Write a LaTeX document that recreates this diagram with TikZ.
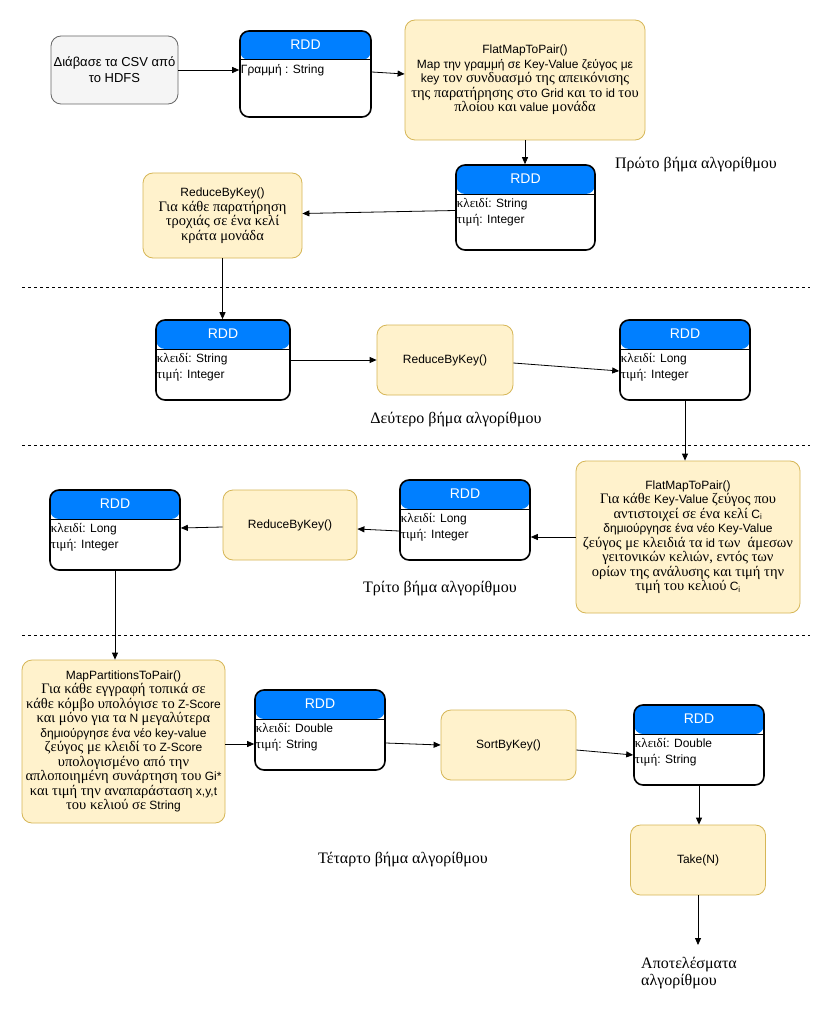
\documentclass[tikz,border=0pt]{standalone}
\usepackage{fontspec}
\setmainfont{Liberation Sans}
\newfontfamily\grs{Liberation Serif}
\usetikzlibrary{arrows.meta,calc}
\newcommand\gk[1]{{\grs\fontsize{14.5}{14.5}\selectfont #1}}
\newcommand\gkr[1]{{\grs\fontsize{13}{15.5}\selectfont #1}}
\definecolor{rddblue}{HTML}{007FFF}
\definecolor{opfill}{HTML}{FFF2CC}
\definecolor{opdraw}{HTML}{D6B656}
\definecolor{csvfill}{HTML}{F5F5F5}
\definecolor{csvdraw}{HTML}{666666}
\newcommand\rddnode[6]{%
  \node[rddbox, minimum width=#4pt, minimum height=#5pt] (#1) at (#2,#3) {};
  \node[rddhead] (#1h) at ([yshift=-14.5pt]#1.north) {RDD};
  \node[rddbody] (#1b) at ([xshift=0.5pt,yshift=-33pt]#1.north west) {#6};
}
\begin{document}
\begin{tikzpicture}[x=1pt,y=-1pt,
  font=\fontsize{12}{14.5}\selectfont,
  rddbox/.style={draw=black, line width=1.6pt, rounded corners=9pt, fill=white, inner sep=0pt,
    path picture={
      \fill[rddblue] ([yshift=2pt]path picture bounding box.north west) rectangle ([yshift=-29pt]path picture bounding box.north east);
      \draw[line width=1pt,black] ([yshift=-29pt]path picture bounding box.north west) -- ([yshift=-29pt]path picture bounding box.north east);
    }},
  rddhead/.style={text=white, font=\fontsize{14}{16}\selectfont, inner sep=0pt},
  rddbody/.style={anchor=north west, align=left, inner sep=1pt, font=\fontsize{12}{15.5}\selectfont},
  opbox/.style={draw=opdraw, fill=opfill, line width=0.8pt, rounded corners=10pt, align=center, inner sep=2pt},
  csvbox/.style={draw=csvdraw, fill=csvfill, line width=0.8pt, rounded corners=10pt, align=center, inner sep=2pt, font=\fontsize{13}{16}\selectfont},
  steplabel/.style={font=\grs\fontsize{16}{19}\selectfont, inner sep=0pt},
  arr/.style={draw=black, line width=0.8pt, -{Triangle[length=7pt,width=6pt]}},
  sep/.style={draw=black, line width=0.8pt, dash pattern=on 3pt off 3pt}
]
\fill[white] (0,0) rectangle (832,1011);
\useasboundingbox (0,0) rectangle (832,1011);

% separators
\draw[sep] (22,287) -- (810,287);
\draw[sep] (22,445) -- (810,445);
\draw[sep] (22,635) -- (810,635);

% step 1
\node[csvbox, minimum width=127pt, minimum height=68pt] (csv) at (114.5,70) {Διάβασε τα CSV από\\το HDFS};
\rddnode{r1}{305.5}{74}{131}{86}{Γραμμή : String}
\node[opbox, minimum width=240pt, minimum height=120pt] (fm1) at (525,80) {FlatMapToPair()\\
Map την γραμμή σε Key-Value ζεύγος με\\
key \gk{τον συνδυασμό της απεικόνισης}\\
\gk{της παρατήρησης στο} Grid \gk{και το} id \gk{του}\\
\gk{πλοίου και} value \gk{μονάδα}};
\node[steplabel] (l1) at (696,165) {Πρώτο βήμα αλγορίθμου};
\rddnode{r2}{525.5}{207.5}{139}{85}{\gkr{κλειδί}: String\\\gkr{τιμή}: Integer}
\node[opbox, minimum width=159pt, minimum height=85pt] (rb1) at (222.5,215.5) {ReduceByKey()\\
\gk{Για κάθε παρατήρηση}\\\gk{τροχιάς σε ένα κελί}\\\gk{κράτα μονάδα}};

% step 2
\rddnode{r3}{223}{360}{134}{80}{\gkr{κλειδί}: String\\\gkr{τιμή}: Integer}
\node[opbox, minimum width=136pt, minimum height=70pt] (rb2) at (445,360) {ReduceByKey()};
\rddnode{r4}{685}{360}{130}{80}{\gkr{κλειδί}: Long\\\gkr{τιμή}: Integer}
\node[steplabel] (l2) at (456,420) {Δεύτερο βήμα αλγορίθμου};

% step 3
\node[opbox, minimum width=224pt, minimum height=152pt] (fm2) at (688,537) {FlatMapToPair()\\
\gk{Για κάθε} Key-Value \gk{ζεύγος που}\\
\gk{αντιστοιχεί σε ένα κελί} C\textsubscript{i}\\
δημιούργησε ένα νέο Key-Value\\
\gk{ζεύγος με κλειδιά τα} id \gk{των\ \ άμεσων}\\
\gk{γειτονικών κελιών, εντός των}\\
\gk{ορίων της ανάλυσης και τιμή την}\\
\gk{τιμή του κελιού} C\textsubscript{i}};
\rddnode{r5}{465}{520}{130}{80}{\gkr{κλειδί}: Long\\\gkr{τιμή}: Integer}
\node[opbox, minimum width=134pt, minimum height=70pt] (rb3) at (290,525) {ReduceByKey()};
\rddnode{r6}{115}{530}{130}{80}{\gkr{κλειδί}: Long\\\gkr{τιμή}: Integer}
\node[steplabel] (l3) at (440,589) {Τρίτο βήμα αλγορίθμου};

% step 4
\node[opbox, minimum width=203pt, minimum height=163pt] (mp) at (123.5,741.5) {MapPartitionsToPair()\\
\gk{Για κάθε εγγραφή τοπικά σε}\\
\gk{κάθε κόμβο υπολόγισε το} Z-Score\\
\gk{και μόνο για τα} N \gk{μεγαλύτερα}\\
δημιούργησε ένα νέο key-value\\
\gk{ζεύγος με κλειδί το} Z-Score\\
\gk{υπολογισμένο από την}\\
\gk{απλοποιημένη συνάρτηση του} Gi*\\
\gk{και τιμή την αναπαράσταση} x,y,t\\
\gk{του κελιού σε} String};
\rddnode{r7}{320}{730}{130}{80}{\gkr{κλειδί}: Double\\\gkr{τιμή}: String}
\node[opbox, minimum width=135pt, minimum height=70pt] (sbk) at (508.5,745) {SortByKey()};
\rddnode{r8}{699}{745}{130}{80}{\gkr{κλειδί}: Double\\\gkr{τιμή}: String}
\node[opbox, minimum width=135pt, minimum height=70pt] (take) at (698,860) {Take(N)};
\node[steplabel] (l4) at (403,860) {Τέταρτο βήμα αλγορίθμου};
\coordinate (res) at (698,945);
\node[steplabel, anchor=north west, align=left, font=\grs\fontsize{16}{17.5}\selectfont] (rest) at (641,957) {Αποτελέσματα\\αλγορίθμου};

% connectors
\draw[arr] (csv.east) -- (csv.east -| r1.west);
\draw[arr] ([yshift=2pt]r1.east) -- ([yshift=6pt]fm1.west);
\draw[arr] (fm1.south) -- (fm1.south |- r2.north);
\draw[arr] ([yshift=-3pt]r2.west) -- ([yshift=2pt]rb1.east);
\draw[arr] (rb1.south) -- (rb1.south |- r3.north);
\draw[arr] (r3.east) -- (rb2.west);
\draw[arr] ([yshift=-3pt]rb2.east) -- ([yshift=-11pt]r4.west);
\draw[arr] (r4.south) -- (r4.south |- fm2.north);
\draw[arr] (fm2.west) -- (fm2.west -| r5.east);
\draw[arr] ([yshift=-11pt]r5.west) -- ([yshift=-4pt]rb3.east);
\draw[arr] ([yshift=-2pt]rb3.west) -- ([yshift=2pt]r6.east);
\draw[arr] (r6.south) -- (r6.south |- mp.north);
\draw[arr] ([yshift=-2.5pt]mp.east) -- ([yshift=-14pt]r7.west);
\draw[arr] ([yshift=-13pt]r7.east) -- (sbk.west);
\draw[arr] ([yshift=-5pt]sbk.east) -- ([yshift=-10pt]r8.west);
\draw[arr] (r8.south) -- (r8.south |- take.north);
\draw[arr] (take.south) -- (res);
\end{tikzpicture}
\end{document}
